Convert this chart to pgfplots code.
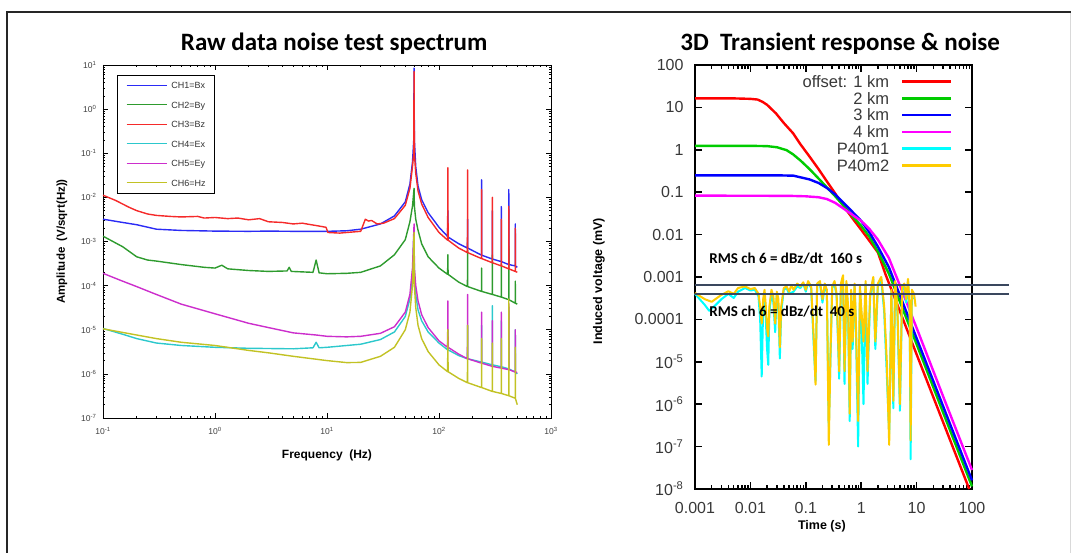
\documentclass[border=0pt]{standalone}
\usepackage{pgfplots}
\pgfplotsset{compat=1.18}
\usepackage{fontspec}
\setmainfont{Liberation Sans}
\newfontfamily\calfont{Carlito}
\definecolor{cblue}{HTML}{2B2BF5}
\definecolor{cgreen}{HTML}{2E9B2E}
\definecolor{cred}{HTML}{F52A2A}
\definecolor{ccyan}{HTML}{2CC8CC}
\definecolor{cmag}{HTML}{CC2ECC}
\definecolor{cyel}{HTML}{C2C224}
\definecolor{rred}{HTML}{FF0000}
\definecolor{rgreen}{HTML}{00CC00}
\definecolor{rblue}{HTML}{0000FF}
\definecolor{rmag}{HTML}{FF00FF}
\definecolor{rcyan}{HTML}{00FFFF}
\definecolor{ryel}{HTML}{FFCC00}
\definecolor{rmsc}{HTML}{3A475E}
\begin{document}
\begin{tikzpicture}
\useasboundingbox (0pt,0pt) rectangle (1071pt,553pt);
\draw[line width=0.8pt, black!15] (1070pt,0pt) -- (1070pt,541pt);
\draw[line width=1.5pt, black!85] (7pt,0pt) -- (7pt,541pt) -- (1071pt,541pt);
% ---------------- left ----------------
\begin{axis}[
 at={(103pt,135pt)}, anchor=south west, scale only axis, width=448pt, height=353pt,
 xmode=log, ymode=log, xmin=0.1, xmax=1000, ymin=1e-7, ymax=10,
 xtick={0.1,1,10,100,1000},
 xticklabels={10\textsuperscript{-1},10\textsuperscript{0},10\textsuperscript{1},10\textsuperscript{2},10\textsuperscript{3}},
 ytick={1e-7,1e-6,1e-5,1e-4,1e-3,1e-2,1e-1,1,10},
 yticklabels={10\textsuperscript{-7},10\textsuperscript{-6},10\textsuperscript{-5},10\textsuperscript{-4},10\textsuperscript{-3},10\textsuperscript{-2},10\textsuperscript{-1},10\textsuperscript{0},10\textsuperscript{1}},
 tick label style={font=\fontsize{8.5}{9}\selectfont, text=black!75},
 xticklabel style={yshift=-6pt},
 yticklabel style={xshift=-3pt},
 major tick length=5pt, minor tick length=2.5pt,
 axis line style={line width=0.8pt},
 every tick/.append style={black, line width=0.6pt},
 title={Raw data noise test spectrum},
 title style={font=\calfont\bfseries\fontsize{25}{27}\selectfont, at={(axis description cs:0.516,1.042)}, anchor=center},
 xlabel={Frequency\ \ (Hz)},
 xlabel style={font=\bfseries\fontsize{12}{12}\selectfont, at={(axis description cs:0.5,-0.105)}, anchor=center},
 ylabel={Amplitude\ \ (V/sqrt(Hz))},
 ylabel style={font=\bfseries\fontsize{11.5}{12}\selectfont, at={(axis description cs:-0.0915,0.5)}, anchor=center},
 every axis plot/.append style={line width=1.4pt, line join=round},
 legend cell align=left,
 legend image code/.code={\draw[#1, line width=1.2pt] (0pt,0pt) -- (40pt,0pt);},
 legend style={at={(axis description cs:0.031,0.972)}, anchor=north west, draw=none, fill=white, name=lleg,
   font=\fontsize{9}{9}\selectfont, inner xsep=9pt, inner ysep=7pt, row sep=13pt, column sep=4pt,
   nodes={inner sep=0pt, text height=6.5pt, text depth=0pt, text=black!80}},
]
\addplot[cblue] coordinates {(0.1,3.2e-3)(0.15,2.7e-3)(0.2,2.4e-3)(0.3,1.9e-3)(0.5,1.78e-3)(1,1.72e-3)(2,1.7e-3)(3,1.72e-3)(5,1.7e-3)(8,1.7e-3)(10,1.7e-3)(15,1.75e-3)(20,1.9e-3)(30,2.5e-3)(40,3.8e-3)(50,7.9e-3)(55,2e-2)(58,6.3e-2)(59.5,0.2)(59.9,8.5)(60.3,0.2)(62,5e-2)(65,1.8e-2)(70,8.9e-3)(80,4.5e-3)(100,2.1e-3)(119.4,1.3e-3)(120,5e-3)(120.6,1.26e-3)(150,8.9e-4)(179.4,7.1e-4)(180,3.2e-3)(180.6,7.1e-4)(239.4,4.9e-4)(240,2.5e-2)(240.6,4.9e-4)(299.4,4e-4)(300,5e-3)(300.6,4e-4)(359.4,3.5e-4)(360,6.2e-3)(360.6,3.5e-4)(419.4,3e-4)(420,1.5e-2)(420.6,3e-4)(479.4,2.8e-4)(480,2.5e-3)(480.6,2.8e-4)(500,2.6e-4)};
\addlegendentry{CH1=Bx}
\addplot[cgreen] coordinates {(0.1,1.32e-3)(0.15,7.6e-4)(0.2,4.5e-4)(0.25,3.8e-4)(0.3,3.6e-4)(0.5,3e-4)(0.8,2.6e-4)(1,2.5e-4)(1.15,2.9e-4)(1.3,2.4e-4)(2,2.2e-4)(3,2.1e-4)(4.4,2.15e-4)(4.6,2.6e-4)(4.8,2.1e-4)(7.5,2e-4)(8,3.8e-4)(8.5,1.95e-4)(10,1.86e-4)(15,1.9e-4)(20,2e-4)(30,2.8e-4)(40,5e-4)(50,1.1e-3)(55,2.8e-3)(58,6.3e-3)(59.9,1.6e-2)(60.3,6.3e-3)(62,3.2e-3)(65,1.8e-3)(70,8.9e-4)(80,4.5e-4)(100,2.5e-4)(119.4,1.8e-4)(120,5e-4)(120.6,1.8e-4)(150,1.2e-4)(179.4,9.5e-5)(180,6.3e-4)(180.6,9.5e-5)(239.4,7.4e-5)(240,2.5e-4)(240.6,7.4e-5)(299.4,6.3e-5)(300,5e-4)(300.6,6.3e-5)(359.4,5.5e-5)(360,3.2e-4)(360.6,5.5e-5)(419.4,4.8e-5)(420,7.9e-4)(420.6,4.8e-5)(479.4,4e-5)(480,1.26e-4)(480.6,4e-5)(500,3.8e-5)};
\addlegendentry{CH2=By}
\addplot[cred] coordinates {(0.1,1.12e-2)(0.13,8.5e-3)(0.17,6e-3)(0.2,5e-3)(0.25,4.2e-3)(0.3,3.9e-3)(0.4,3.7e-3)(0.5,3.6e-3)(0.7,3.7e-3)(0.8,3.4e-3)(1,3.5e-3)(1.3,3.3e-3)(1.6,3.4e-3)(2,3.1e-3)(2.5,3.3e-3)(3,2.8e-3)(4,2.7e-3)(5,2.5e-3)(6,2.6e-3)(8,2.3e-3)(9.8,2.1e-3)(10.2,1.6e-3)(13,1.55e-3)(15,1.6e-3)(20,1.7e-3)(22,3.2e-3)(23.5,2.9e-3)(25,3e-3)(28,2.5e-3)(32,2.6e-3)(40,3.3e-3)(50,6.6e-3)(55,1.6e-2)(58,5e-2)(59.5,0.1)(59.9,7.1)(60.3,0.1)(62,3.5e-2)(65,1.4e-2)(70,7.1e-3)(80,3.5e-3)(100,1.6e-3)(119.4,1.07e-3)(120,4.7e-2)(120.6,1.07e-3)(150,7.1e-4)(179.4,5.6e-4)(180,4.2e-2)(180.6,5.6e-4)(239.4,4.1e-4)(240,1.5e-2)(240.6,4.1e-4)(299.4,3.3e-4)(300,1e-2)(300.6,3.3e-4)(359.4,2.8e-4)(360,3.2e-3)(360.6,2.8e-4)(419.4,2.4e-4)(420,6.3e-3)(420.6,2.4e-4)(479.4,2.1e-4)(480,2e-3)(480.6,2.1e-4)(500,2e-4)};
\addlegendentry{CH3=Bz}
\addplot[ccyan] coordinates {(0.1,1.07e-5)(0.15,7.9e-6)(0.2,6.3e-6)(0.3,5e-6)(0.5,4.4e-6)(1,4e-6)(2,3.8e-6)(5,3.7e-6)(7.5,3.9e-6)(8,5.2e-6)(8.5,3.9e-6)(10,4e-6)(20,4.7e-6)(30,6e-6)(40,8.9e-6)(50,2e-5)(55,5e-5)(58,1.6e-4)(59.9,2e-3)(60.3,1.6e-4)(62,6.3e-5)(65,2.8e-5)(70,1.6e-5)(80,8.9e-6)(100,5e-6)(119.4,3.5e-6)(120,1e-5)(120.6,3.5e-6)(150,2.6e-6)(179.4,2.2e-6)(180,1.26e-5)(180.6,2.2e-6)(239.4,1.85e-6)(240,1.26e-5)(240.6,1.85e-6)(299.4,1.6e-6)(300,3.5e-5)(300.6,1.6e-6)(359.4,1.45e-6)(360,1.6e-5)(360.6,1.45e-6)(419.4,1.3e-6)(420,3.2e-5)(420.6,1.3e-6)(479.4,1.1e-6)(480,1e-5)(480.6,1.1e-6)(500,1e-6)};
\addlegendentry{CH4=Ex}
\addplot[cmag] coordinates {(0.1,1.9e-4)(0.15,1.26e-4)(0.2,9.5e-5)(0.3,6.3e-5)(0.5,3.8e-5)(1,2.3e-5)(2,1.4e-5)(3,1.12e-5)(5,8.5e-6)(8,7.6e-6)(10,7.1e-6)(15,6.9e-6)(20,7.1e-6)(30,8.3e-6)(40,1.17e-5)(50,2.5e-5)(55,6.3e-5)(58,2.5e-4)(59.9,2.5e-3)(60.3,2.5e-4)(62,1e-4)(65,4.5e-5)(70,2.2e-5)(80,1.12e-5)(100,5.6e-6)(119.4,4e-6)(120,4.5e-5)(120.6,4e-6)(150,2.8e-6)(179.4,2.2e-6)(180,6.3e-5)(180.6,2.2e-6)(239.4,1.75e-6)(240,2.5e-5)(240.6,1.75e-6)(299.4,1.48e-6)(300,1.6e-5)(300.6,1.48e-6)(359.4,1.35e-6)(360,2.5e-5)(360.6,1.35e-6)(419.4,1.25e-6)(420,4e-5)(420.6,1.25e-6)(479.4,1.1e-6)(480,1e-5)(480.6,1.1e-6)(500,1.07e-6)};
\addlegendentry{CH5=Ey}
\addplot[cyel] coordinates {(0.1,1.05e-5)(0.2,7.6e-6)(0.3,6.3e-6)(0.5,5.2e-6)(1,4.4e-6)(2,3.4e-6)(3,3e-6)(5,2.5e-6)(10,2e-6)(15,1.8e-6)(20,1.82e-6)(30,2.5e-6)(40,4e-6)(50,1e-5)(55,2.5e-5)(58,1e-4)(59.9,1.6e-3)(60.3,1e-4)(62,3.2e-5)(65,1.26e-5)(70,6.3e-6)(80,3.2e-6)(100,1.6e-6)(119.4,1.12e-6)(120,1e-5)(120.6,1.12e-6)(150,7.9e-7)(179.4,6.3e-7)(180,1.26e-5)(180.6,6.3e-7)(239.4,4.9e-7)(240,6.3e-6)(240.6,4.9e-7)(299.4,4e-7)(300,5e-6)(300.6,4e-7)(359.4,3.6e-7)(360,6.3e-6)(360.6,3.6e-7)(419.4,3.2e-7)(420,5e-5)(420.6,3.2e-7)(479.4,2.8e-7)(480,4e-6)(480.6,2.8e-7)(500,2e-7)};
\addlegendentry{CH6=Hz}
\end{axis}
\draw[line width=0.7pt, black] (lleg.north west) rectangle (lleg.south east);
% ---------------- right ----------------
\begin{axis}[
 at={(695pt,64pt)}, anchor=south west, scale only axis, width=277pt, height=424pt,
 xmode=log, ymode=log, xmin=0.001, xmax=100, ymin=1e-8, ymax=100, clip=false,
 xtick={0.001,0.01,0.1,1,10,100}, xticklabels={0.001,0.01,0.1,1,10,100},
 ytick={1e-8,1e-7,1e-6,1e-5,1e-4,1e-3,1e-2,1e-1,1,10,100},
 yticklabels={10\textsuperscript{-8},10\textsuperscript{-7},10\textsuperscript{-6},10\textsuperscript{-5},0.0001,0.001,0.01,0.1,1,10,100},
 yminorticks=false,
 tick label style={font=\fontsize{16}{16}\selectfont, text=black!78},
 xticklabel style={yshift=-10pt},
 yticklabel style={xshift=-8pt},
 axis line style={line width=2pt},
 major tick length=7pt, minor tick length=4pt,
 every tick/.append style={black, line width=1.5pt},
 title={3D\ \ Transient response \& noise},
 title style={font=\calfont\bfseries\fontsize{25}{27}\selectfont, at={(axis description cs:0.524,1.035)}, anchor=center},
 xlabel={Time (s)},
 xlabel style={font=\bfseries\fontsize{12.5}{13}\selectfont, at={(axis description cs:0.458,-0.087)}, anchor=center},
 ylabel={Induced voltage (mV)},
 ylabel style={font=\bfseries\fontsize{12.5}{13}\selectfont, at={(axis description cs:-0.347,0.49)}, anchor=center},
 every axis plot/.append style={line width=2.4pt, line join=round},
 legend cell align=right, legend plot pos=right,
 legend image code/.code={\draw[#1, line width=2.5pt] (0pt,0pt) -- (49pt,0pt);},
 legend style={at={(axis description cs:0.931,0.975)}, anchor=north east, draw=none, fill=none, inner sep=0pt,
   font=\fontsize{16.5}{16.5}\selectfont, row sep=5.3pt, column sep=12pt,
   nodes={inner sep=0pt, text height=11.5pt, text depth=0pt, text=black!78}},
]
\addplot[rred] coordinates {(0.001,16.3)(0.005,16.3)(0.01,15.9)(0.0135,15.3)(0.0166,13.5)(0.02,11.5)(0.029,7.2)(0.04,4.3)(0.059,2.45)(0.08,1.35)(0.117,0.69)(0.17,0.35)(0.24,0.18)(0.34,0.093)(0.48,0.047)(0.7,0.024)(1,0.013)(1.41,7.1e-3)(2,3.8e-3)(2.75,1.15e-3)(5,1.55e-4)(10,1.5e-5)(31.6,3.2e-7)(89,1e-8)};
\addlegendentry{offset: 1 km}
\addplot[rgreen] coordinates {(0.001,1.24)(0.01,1.24)(0.02,1.22)(0.03,1.15)(0.045,0.98)(0.059,0.78)(0.08,0.56)(0.117,0.35)(0.17,0.21)(0.24,0.13)(0.34,0.08)(0.48,0.048)(0.7,0.027)(1,0.016)(1.41,8.9e-3)(2,4e-3)(3.16,1.2e-3)(5,2.6e-4)(10,2.6e-5)(31.6,5.4e-7)(100,1.15e-8)};
\addlegendentry{2 km}
\addplot[rblue] coordinates {(0.001,0.25)(0.03,0.25)(0.06,0.245)(0.117,0.2)(0.17,0.165)(0.24,0.126)(0.34,0.088)(0.48,0.056)(0.7,0.034)(1,0.021)(1.41,0.0112)(2,5.2e-3)(3.16,1.7e-3)(5,3.7e-4)(10,3.6e-5)(31.6,7.6e-7)(100,1.6e-8)};
\addlegendentry{3 km}
\addplot[rmag] coordinates {(0.001,0.083)(0.05,0.082)(0.1,0.08)(0.17,0.076)(0.24,0.069)(0.34,0.056)(0.48,0.041)(0.7,0.029)(1,0.021)(1.41,0.0135)(2,7.6e-3)(3.16,2.8e-3)(5,6.3e-4)(10,6.3e-5)(31.6,1.3e-6)(100,2.8e-8)};
\addlegendentry{4 km}
\addplot[rcyan, line width=2pt] coordinates {(0.001,4.0e-4)(0.0015,2.2e-4)(0.0018,1.6e-4)(0.0022,2.0e-4)(0.003,3.0e-4)(0.004,4.0e-4)(0.005,3.2e-4)(0.006,4.5e-4)(0.008,5.5e-4)(0.010,4.8e-4)(0.012,5.0e-4)(0.014,3.5e-4)(0.015,1.0e-4)(0.016,4.5e-6)(0.017,2.0e-4)(0.018,4.0e-4)(0.019,1.0e-4)(0.020,2.0e-5)(0.021,8.5e-6)(0.022,1.5e-4)(0.024,4.0e-4)(0.026,2.5e-4)(0.028,5.0e-5)(0.030,4.0e-4)(0.032,2.0e-4)(0.034,1.2e-5)(0.036,1.5e-4)(0.040,5.0e-4)(0.045,5.5e-4)(0.05,4.0e-4)(0.06,4.5e-4)(0.07,6.0e-4)(0.08,5.5e-4)(0.09,7.0e-4)(0.1,4.5e-4)(0.11,7.5e-4)(0.125,5.5e-4)(0.14,2.0e-5)(0.15,3.5e-6)(0.16,6.5e-4)(0.18,7.0e-4)(0.2,2.5e-4)(0.22,6.0e-4)(0.24,4.5e-4)(0.26,3.0e-7)(0.28,1.5e-5)(0.30,5.5e-4)(0.33,7.0e-4)(0.36,3.5e-4)(0.40,4.0e-6)(0.43,6.0e-4)(0.47,9.0e-4)(0.50,3.0e-6)(0.54,7.0e-4)(0.58,1.5e-4)(0.62,4.0e-7)(0.66,4.0e-4)(0.70,2.0e-5)(0.76,6.0e-4)(0.80,8.0e-5)(0.88,1.0e-7)(0.95,5.0e-4)(1.00,1.5e-4)(1.10,1.0e-6)(1.2,7.0e-4)(1.3,3.0e-6)(1.45,3.5e-4)(1.65,9.0e-4)(1.8,2.0e-5)(2.0,6.0e-4)(2.3,9.0e-4)(2.6,1.5e-4)(2.9,5.0e-6)(3.2,2.0e-7)(3.5,4.5e-4)(3.8,8.0e-7)(4.1,7.0e-4)(4.5,1.5e-4)(5.0,7.0e-7)(5.5,5.0e-4)(6.0,6.0e-4)(6.5,2.5e-4)(7.0,8.0e-4)(7.5,1.5e-4)(7.8,5.0e-8)(8.2,4.0e-4)(8.6,3.0e-4)};
\addlegendentry{P40m1}
\addplot[ryel, line width=2pt] coordinates {(0.001,4.2e-4)(0.0015,3.0e-4)(0.002,2.6e-4)(0.003,3.8e-4)(0.004,4.6e-4)(0.005,4.0e-4)(0.006,5.5e-4)(0.008,6.0e-4)(0.010,5.2e-4)(0.012,5.5e-4)(0.014,4.0e-4)(0.015,2.0e-4)(0.016,8.0e-5)(0.017,3.0e-4)(0.018,5.0e-4)(0.019,2.0e-4)(0.020,6.0e-5)(0.021,4.0e-5)(0.022,2.0e-4)(0.024,5.0e-4)(0.026,3.5e-4)(0.028,8.0e-5)(0.030,4.5e-4)(0.032,3.0e-4)(0.034,2.2e-5)(0.036,2.0e-4)(0.040,5.5e-4)(0.045,6.0e-4)(0.050,4.5e-4)(0.055,6.5e-4)(0.060,5.0e-4)(0.070,7.0e-4)(0.080,6.0e-4)(0.090,7.5e-4)(0.100,5.0e-4)(0.110,8.0e-4)(0.125,6.0e-4)(0.140,3.0e-5)(0.150,2.9e-6)(0.160,7.0e-4)(0.180,8.0e-4)(0.200,3.0e-4)(0.220,7.0e-4)(0.240,5.0e-4)(0.260,1.1e-7)(0.280,2.0e-5)(0.300,6.0e-4)(0.330,8.0e-4)(0.360,4.0e-4)(0.400,6.0e-6)(0.430,7.0e-4)(0.470,1.1e-3)(0.500,6.0e-6)(0.540,8.0e-4)(0.580,2.0e-4)(0.620,6.0e-7)(0.660,5.0e-4)(0.700,3.0e-5)(0.760,7.0e-4)(0.800,1.0e-4)(0.880,4.0e-7)(0.950,6.0e-4)(1.000,2.0e-4)(1.100,3.0e-5)(1.200,8.0e-4)(1.300,6.0e-6)(1.450,4.0e-4)(1.650,1.0e-3)(1.800,3.0e-5)(2.000,7.0e-4)(2.300,1.0e-3)(2.600,2.0e-4)(2.900,1.0e-5)(3.200,1.1e-7)(3.500,5.0e-4)(3.800,1.2e-6)(4.100,8.0e-4)(4.500,2.0e-4)(5.000,1.0e-6)(5.500,6.0e-4)(6.000,7.0e-4)(6.500,3.0e-4)(7.000,9.0e-4)(7.500,2.0e-4)(7.800,1.4e-7)(8.200,5.0e-4)(9.000,4.0e-4)(9.600,2.0e-4)};
\addlegendentry{P40m2}
\addplot[rmsc, line width=1.8pt, forget plot] coordinates {(0.001,6.4e-4)(470,6.4e-4)};
\addplot[rmsc, line width=1.8pt, forget plot] coordinates {(0.001,4.0e-4)(470,4.0e-4)};
\node[anchor=west, font=\calfont\bfseries\fontsize{15}{15}\selectfont, inner sep=0pt] at (axis cs:0.0018,2.75e-3) {RMS ch 6 = dBz/dt\ \ 160 s};
\node[anchor=west, font=\calfont\bfseries\fontsize{15}{15}\selectfont, inner sep=0pt] at (axis cs:0.0018,1.55e-4) {RMS ch 6 = dBz/dt\ \ 40 s};
\end{axis}
\end{tikzpicture}
\end{document}
